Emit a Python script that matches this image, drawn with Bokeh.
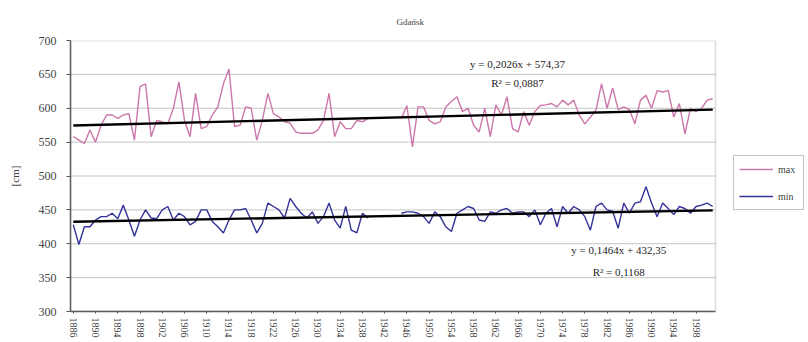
from bokeh.plotting import figure
from bokeh.models import Range1d, FixedTicker, Label, Legend, LegendItem, ColumnDataSource, BoxAnnotation
from bokeh.embed import file_html
from bokeh.resources import INLINE

nan = float("nan")

title_text = "Gdańsk"
y_axis_title = "[cm]"
years = list(range(1886, 2002))
year_ticks = years[::4]
y_ticks = [300, 350, 400, 450, 500, 550, 600, 650, 700]

max_level = [
    558, 553, 548, 568, 550, 575, 590, 590, 585, 590,
    592, 553, 632, 636, 558, 582, 580, 577, 600, 639,
    582, 558, 622, 570, 573, 590, 602, 636, 658, 573,
    575, 602, 600, 553, 582, 622, 592, 587, 580, 578,
    565, 563, 563, 563, 568, 582, 622, 558, 580, 570,
    570, 582, 580, 585, nan, nan, nan, nan, nan, 585,
    604, 543, 602, 602, 582, 577, 580, 602, 610, 617,
    595, 600, 575, 565, 600, 558, 605, 590, 617, 570,
    565, 595, 575, 595, 604, 605, 607, 602, 612, 605,
    612, 590, 577, 587, 597, 636, 600, 630, 598, 602,
    598, 577, 612, 619, 600, 626, 624, 626, 587, 607,
    562, 600, 595, 600, 612, 614,
]

min_level = [
    428, 399, 425, 425, 435, 440, 440, 445, 437, 457,
    435, 411, 435, 450, 438, 437, 450, 455, 435, 445,
    440, 428, 433, 450, 450, 433, 425, 416, 435, 450,
    450, 452, 435, 416, 430, 460, 455, 450, 438, 467,
    455, 445, 438, 447, 430, 440, 460, 435, 423, 455,
    420, 416, 445, 438, nan, nan, nan, nan, nan, 445,
    447, 447, 445, 440, 430, 447, 440, 425, 418, 445,
    450, 455, 452, 435, 433, 447, 445, 450, 452, 445,
    447, 447, 440, 450, 428, 445, 452, 425, 455, 445,
    455, 450, 440, 420, 455, 460, 450, 448, 423, 460,
    445, 460, 462, 484, 460, 440, 460, 452, 443, 455,
    452, 445, 455, 457, 460, 455,
]

# Excel linear trendlines (x = 1..N)
max_trend_coef = [0.2026, 574.37]
min_trend_coef = [0.1464, 432.35]
max_eq = ["y = 0,2026x + 574,37", "R² = 0,0887"]
min_eq = ["y = 0,1464x + 432,35", "R² = 0,1168"]

FONT = "Liberation Serif"

x_lo = years[0] - 0.5
x_hi = years[-1] + 0.5
# frame extends past the plot area to host the legend (plot area = 645 px of 738 px)
x_frame_hi = x_lo + (x_hi - x_lo) * 738.0 / 645.0

src = ColumnDataSource(dict(year=years, mx=max_level, mn=min_level))
n = len(years)
trend_src = ColumnDataSource(dict(
    year=[years[0], years[-1]],
    tmax=[max_trend_coef[0] * 1 + max_trend_coef[1], max_trend_coef[0] * n + max_trend_coef[1]],
    tmin=[min_trend_coef[0] * 1 + min_trend_coef[1], min_trend_coef[0] * n + min_trend_coef[1]],
))
grid_y = y_ticks[1:-1]
grid_src = ColumnDataSource(dict(x0=[x_lo] * len(grid_y), x1=[x_hi] * len(grid_y), y=grid_y))

p = figure(width=808, height=342, output_backend="svg", toolbar_location=None,
           x_range=Range1d(x_lo, x_frame_hi), y_range=Range1d(300, 700),
           min_border_left=70, min_border_right=0, min_border_top=40, min_border_bottom=31,
           title=title_text)
p.title.align = "left"
p.title.offset = 326
p.title.standoff = 28
p.title.text_font = FONT
p.title.text_font_size = "9px"
p.title.text_font_style = "normal"

p.background_fill_color = "white"
p.border_fill_color = "white"
p.outline_line_color = None
p.xgrid.visible = False
p.ygrid.visible = False

p.segment(x0="x0", y0="y", x1="x1", y1="y", source=grid_src, line_color="#c4c4c4", line_width=1)
p.add_layout(BoxAnnotation(left=x_lo, right=x_hi, bottom=300, top=700, fill_alpha=0,
                           line_color="#8a8a8a", line_width=1.5))

p.xaxis.bounds = (x_lo, x_hi)
p.xaxis.ticker = FixedTicker(ticks=year_ticks)
p.xaxis.major_label_orientation = "vertical"
p.xaxis.major_label_text_font = FONT
p.xaxis.major_label_text_font_size = "10px"
p.xaxis.major_label_standoff = 4
p.xaxis.major_tick_out = 2
p.xaxis.major_tick_in = 0
p.xaxis.minor_tick_line_color = None
p.xaxis.axis_line_color = "#555555"
p.xaxis.axis_line_width = 1.5
p.xaxis.major_tick_line_color = "#555555"

p.yaxis.ticker = FixedTicker(ticks=y_ticks)
p.yaxis.major_label_text_font = FONT
p.yaxis.major_label_text_font_size = "12px"
p.yaxis.major_label_standoff = 10
p.yaxis.major_tick_out = 4
p.yaxis.major_tick_in = 0
p.yaxis.minor_tick_line_color = None
p.yaxis.axis_line_color = "#555555"
p.yaxis.axis_line_width = 1.5
p.yaxis.major_tick_line_color = "#555555"
p.yaxis.axis_label = y_axis_title
p.yaxis.axis_label_text_font = FONT
p.yaxis.axis_label_text_font_size = "11px"
p.yaxis.axis_label_text_font_style = "normal"
p.yaxis.axis_label_standoff = 15

r_max = p.line("year", "mx", source=src, line_color="#cc77aa", line_width=1.4)
r_min = p.line("year", "mn", source=src, line_color="#333399", line_width=1.4)
p.line("year", "tmax", source=trend_src, line_color="black", line_width=2.3)
p.line("year", "tmin", source=trend_src, line_color="black", line_width=2.3)

for txt, xx, yy in [(max_eq[0], 1965.9, 666), (max_eq[1], 1965.9, 637),
                    (min_eq[0], 1984.1, 391), (min_eq[1], 1984.1, 359)]:
    p.add_layout(Label(x=xx, y=yy, text=txt, text_align="center", text_baseline="middle",
                       text_font=FONT, text_font_size="11px", text_color="#222222"))

legend = Legend(items=[LegendItem(label="max", renderers=[r_max]),
                       LegendItem(label="min", renderers=[r_min])],
                location=(663, 101), orientation="vertical",
                label_text_font=FONT, label_text_font_size="10px",
                glyph_width=34, glyph_height=16, label_height=16, spacing=11,
                padding=5, margin=0, label_standoff=5,
                border_line_color="#8a8a8a", border_line_width=1,
                background_fill_color="white", background_fill_alpha=1)
p.add_layout(legend)

open("out.html", "w").write(file_html(p, INLINE))
